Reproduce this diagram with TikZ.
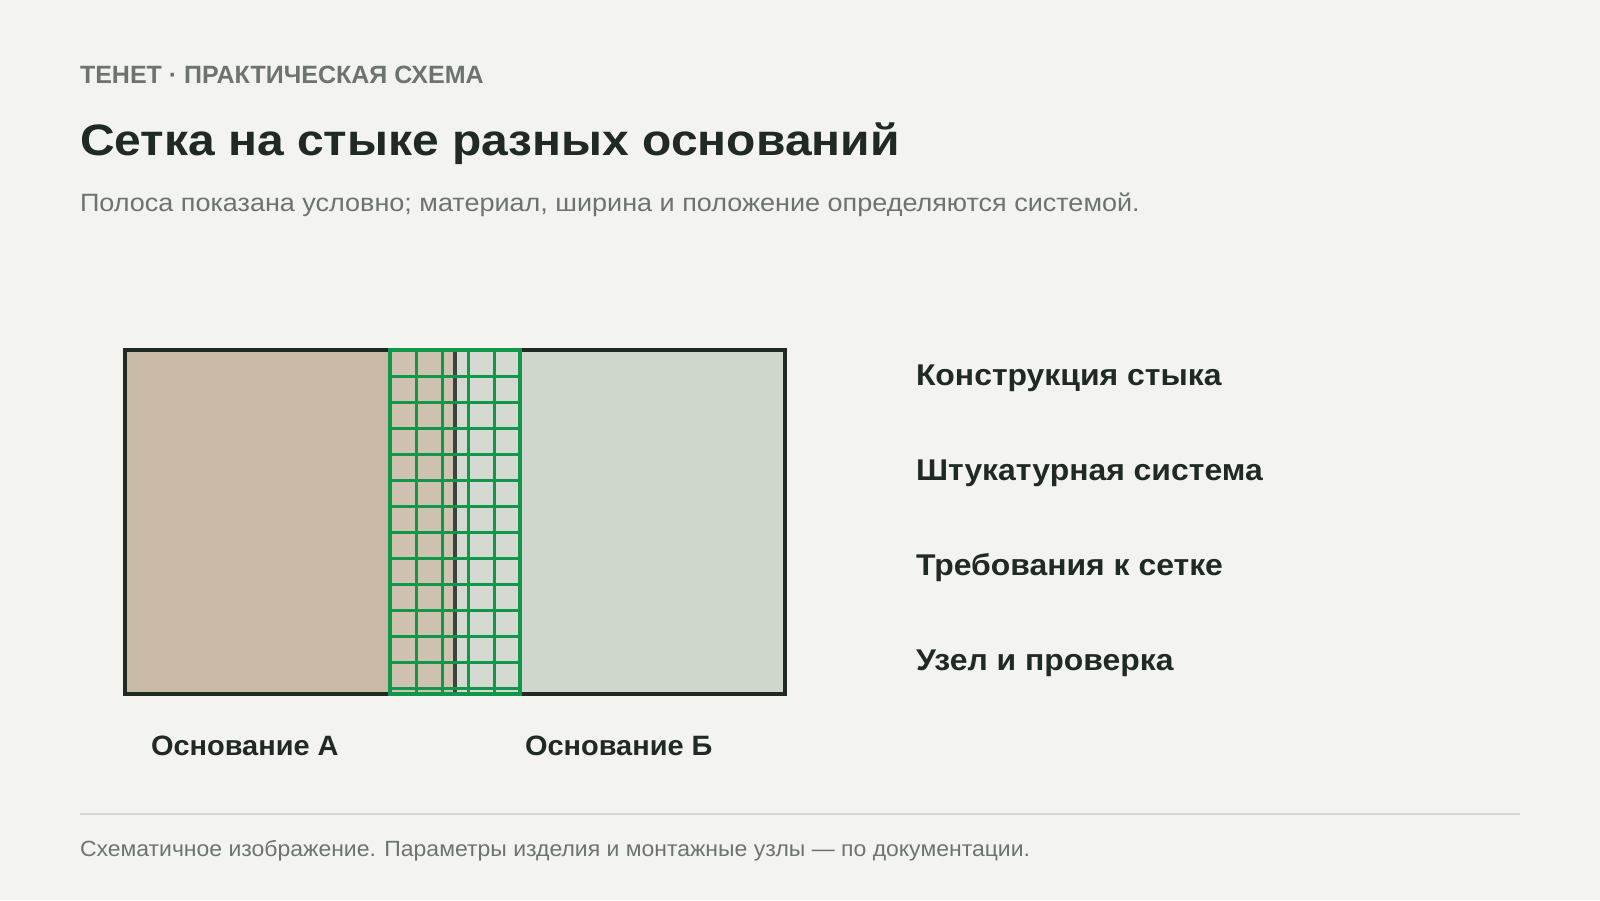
\documentclass[tikz,border=0pt]{standalone}
\usepackage{fontspec}
\setmainfont{Liberation Sans}
\newfontfamily\titlefont{Liberation Sans}[FakeStretch=1.09]
\newfontfamily\subfont{Liberation Sans}[FakeStretch=1.08]
\newfontfamily\sidefont{Liberation Sans}[FakeStretch=1.064]
\newfontfamily\basefont{Liberation Sans}[FakeStretch=1.034]
\newfontfamily\footfont{Liberation Sans}[FakeStretch=1.044]
\definecolor{bg}{HTML}{F3F4EF}
\definecolor{ink}{HTML}{1F2A22}
\definecolor{muted}{HTML}{6B756D}
\definecolor{baseA}{HTML}{C9BAA6}
\definecolor{baseB}{HTML}{CFD6CB}
\definecolor{mesh}{HTML}{10974A}
\definecolor{rule}{HTML}{D5D8D1}
\tikzset{
  txt/.style={anchor=base west, inner sep=0pt, outer sep=0pt},
  sidelabel/.style={txt, text=ink, font=\sidefont\fontsize{30}{36}\selectfont\bfseries},
  baselabel/.style={txt, text=ink, font=\basefont\fontsize{28}{34}\selectfont\bfseries},
  meshline/.style={draw=mesh, line width=3pt},
}
\begin{document}
\begin{tikzpicture}[x=1pt,y=-1pt]
\fill[bg] (0,0) rectangle (1600,900);
\useasboundingbox (0,0) rectangle (1600,900);
% header texts
\node[txt, text=muted, font=\fontsize{25}{30}\selectfont\bfseries] (kicker) at (80,83) {ТЕНЕТ · ПРАКТИЧЕСКАЯ СХЕМА};
\node[txt, text=ink, font=\titlefont\fontsize{44}{50}\selectfont\bfseries] (title) at (80,155) {Сетка на стыке разных оснований};
\node[txt, text=muted, font=\subfont\fontsize{25}{30}\selectfont] (subtitle) at (80,211) {Полоса показана условно; материал, ширина и положение определяются системой.};
% bases
\fill[baseA] (125,350) rectangle (455,694);
\fill[baseB] (455,350) rectangle (785,694);
\draw[ink, line width=4pt] (125,350) rectangle (785,694);
\coordinate (jtop) at (455,350);
\coordinate (jbot) at (455,694);
\draw[ink, line width=3.5pt] (jtop) -- (jbot);
% mesh
\fill[white, opacity=0.12] (390,350) rectangle (520,694);
\foreach \x in {416,442,468,494} \draw[meshline] (\x,350) -- (\x,694);
\foreach \k in {1,...,13} \draw[meshline] (390,350+26*\k) -- (520,350+26*\k);
\draw[mesh, line width=4pt] (390,350) rectangle (520,694);
% side labels
\node[sidelabel] (l1) at (916,385) {Конструкция стыка};
\node[sidelabel] (l2) at (916,480) {Штукатурная система};
\node[sidelabel] (l3) at (916,575) {Требования к сетке};
\node[sidelabel] (l4) at (916,670) {Узел и проверка};
% base labels
\node[baselabel] (ba) at (151,755) {Основание А};
\node[baselabel] (bb) at (525,755) {Основание Б};
% footer
\coordinate (fl) at (80,814);
\coordinate (fr) at (1520,814);
\draw[rule, line width=1.5pt] (fl) -- (fr);
\node[txt, text=muted, font=\footfont\fontsize{22}{26}\selectfont] (footer) at (80,856) {Схематичное изображение. Параметры изделия и монтажные узлы — по документации.};
\end{tikzpicture}
\end{document}
